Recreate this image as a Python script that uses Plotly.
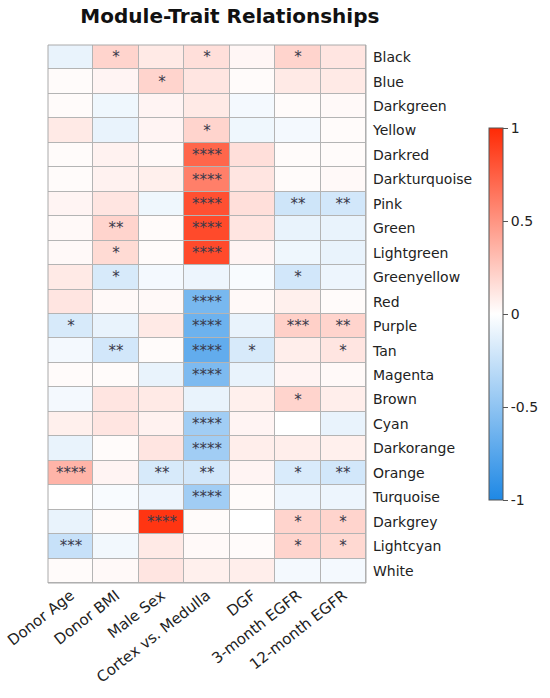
import plotly.graph_objects as go

traits = ["Donor Age", "Donor BMI", "Male Sex", "Cortex vs. Medulla",
          "DGF", "3-month EGFR", "12-month EGFR"]

modules = ["Black", "Blue", "Darkgreen", "Yellow", "Darkred", "Darkturquoise",
           "Pink", "Green", "Lightgreen", "Greenyellow", "Red", "Purple", "Tan",
           "Magenta", "Brown", "Cyan", "Darkorange", "Orange", "Turquoise",
           "Darkgrey", "Lightcyan", "White"]

# correlation of each module eigengene with each trait (rows follow `modules`)
r_black = [-0.10, 0.20, 0.10, 0.15, 0.04, 0.20, 0.12]
r_blue = [0.02, 0.05, 0.20, 0.12, 0.02, 0.10, 0.10]
r_darkgreen = [0.02, -0.07, 0.05, 0.10, -0.05, 0.02, 0.03]
r_yellow = [0.10, -0.10, 0.05, 0.20, -0.07, -0.05, 0.02]
r_darkred = [0.02, 0.06, 0.03, 0.72, 0.15, 0.02, 0.02]
r_darkturquoise = [0.02, 0.06, 0.07, 0.60, 0.12, 0.02, 0.03]
r_pink = [0.05, 0.12, -0.07, 0.82, 0.15, -0.22, -0.20]
r_green = [0.03, 0.20, 0.02, 0.85, 0.12, -0.10, -0.10]
r_lightgreen = [0.03, 0.17, 0.02, 0.85, 0.05, -0.07, -0.10]
r_greenyellow = [0.10, -0.18, -0.05, -0.08, -0.03, -0.20, -0.08]
r_red = [0.12, 0.03, 0.03, -0.60, 0.03, 0.07, 0.02]
r_purple = [-0.18, -0.10, 0.10, -0.65, -0.10, 0.22, 0.20]
r_tan = [-0.05, -0.20, 0.02, -0.70, -0.18, 0.08, 0.12]
r_magenta = [0.02, 0.02, -0.10, -0.58, -0.10, 0.05, 0.03]
r_brown = [-0.05, 0.12, 0.10, -0.10, 0.07, 0.20, 0.08]
r_cyan = [0.07, 0.12, 0.06, -0.42, 0.05, 0.00, -0.10]
r_darkorange = [-0.10, 0.02, 0.12, -0.42, 0.08, 0.08, 0.07]
r_orange = [0.35, 0.05, -0.18, -0.20, 0.05, -0.17, -0.20]
r_turquoise = [0.00, -0.03, -0.08, -0.42, 0.02, -0.08, -0.08]
r_darkgrey = [-0.10, 0.02, 0.95, 0.02, 0.00, 0.20, 0.20]
r_lightcyan = [-0.25, -0.06, 0.10, 0.03, 0.02, 0.20, 0.18]
r_white = [0.02, 0.03, 0.12, 0.07, 0.08, -0.05, -0.05]

correlations = [r_black, r_blue, r_darkgreen, r_yellow, r_darkred,
                r_darkturquoise, r_pink, r_green, r_lightgreen, r_greenyellow,
                r_red, r_purple, r_tan, r_magenta, r_brown, r_cyan,
                r_darkorange, r_orange, r_turquoise, r_darkgrey, r_lightcyan,
                r_white]

# significance level of each correlation (number of asterisks)
signif = [
    [0, 1, 0, 1, 0, 1, 0],
    [0, 0, 1, 0, 0, 0, 0],
    [0, 0, 0, 0, 0, 0, 0],
    [0, 0, 0, 1, 0, 0, 0],
    [0, 0, 0, 4, 0, 0, 0],
    [0, 0, 0, 4, 0, 0, 0],
    [0, 0, 0, 4, 0, 2, 2],
    [0, 2, 0, 4, 0, 0, 0],
    [0, 1, 0, 4, 0, 0, 0],
    [0, 1, 0, 0, 0, 1, 0],
    [0, 0, 0, 4, 0, 0, 0],
    [1, 0, 0, 4, 0, 3, 2],
    [0, 2, 0, 4, 1, 0, 1],
    [0, 0, 0, 4, 0, 0, 0],
    [0, 0, 0, 0, 0, 1, 0],
    [0, 0, 0, 4, 0, 0, 0],
    [0, 0, 0, 4, 0, 0, 0],
    [4, 0, 2, 2, 0, 1, 2],
    [0, 0, 0, 4, 0, 0, 0],
    [0, 0, 4, 0, 0, 1, 1],
    [3, 0, 0, 0, 0, 1, 1],
    [0, 0, 0, 0, 0, 0, 0],
]

star_text = [["*" * n for n in row] for row in signif]

colorscale = [[0.0, "#1E88E5"], [0.5, "#FFFFFF"], [1.0, "#FF2A05"]]

fig = go.Figure(go.Heatmap(
    z=correlations,
    x=traits,
    y=modules,
    zmin=-1, zmax=1,
    colorscale=colorscale,
    xgap=1, ygap=1,
    text=star_text,
    texttemplate="%{text}",
    textfont=dict(family="DejaVu Sans", size=15, color="#3a3a4a"),
    hoverinfo="skip",
    colorbar=dict(
        x=1.387, xanchor="left",
        y=0.5, yanchor="middle",
        len=372, lenmode="pixels",
        thickness=14, xpad=0, ypad=0,
        outlinewidth=1, outlinecolor="#555555",
        ticks="outside", ticklen=5, tickcolor="#555555",
        tickvals=[-1, -0.5, 0, 0.5, 1],
        ticktext=["-1", "-0.5", "0", "0.5", "1"],
        tickfont=dict(family="DejaVu Sans", size=14, color="#222222"),
    ),
))

# outer frame around the grid
fig.add_shape(type="rect", xref="paper", yref="paper", x0=0, y0=0, x1=1, y1=1,
              line=dict(color="#aaaaaa", width=1))

fig.update_layout(
    width=550, height=698,
    margin=dict(l=48, r=184, t=45, b=115, autoexpand=False),
    paper_bgcolor="white",
    plot_bgcolor="#b4b4b4",
    title=dict(text="<b>Module-Trait Relationships</b>",
               xref="container", x=0.418, xanchor="center",
               yref="container", y=0.977, yanchor="middle",
               font=dict(family="DejaVu Sans", size=20, color="#111111")),
    xaxis=dict(tickangle=-38, showgrid=False, zeroline=False, ticks="",
               automargin=False,
               tickfont=dict(family="DejaVu Sans", size=15, color="#222222")),
    yaxis=dict(side="right", autorange="reversed", showgrid=False,
               zeroline=False, ticks="", automargin=False,
               ticklabelstandoff=6,
               tickfont=dict(family="DejaVu Sans", size=14, color="#222222")),
)

fig.write_html("out.html")
